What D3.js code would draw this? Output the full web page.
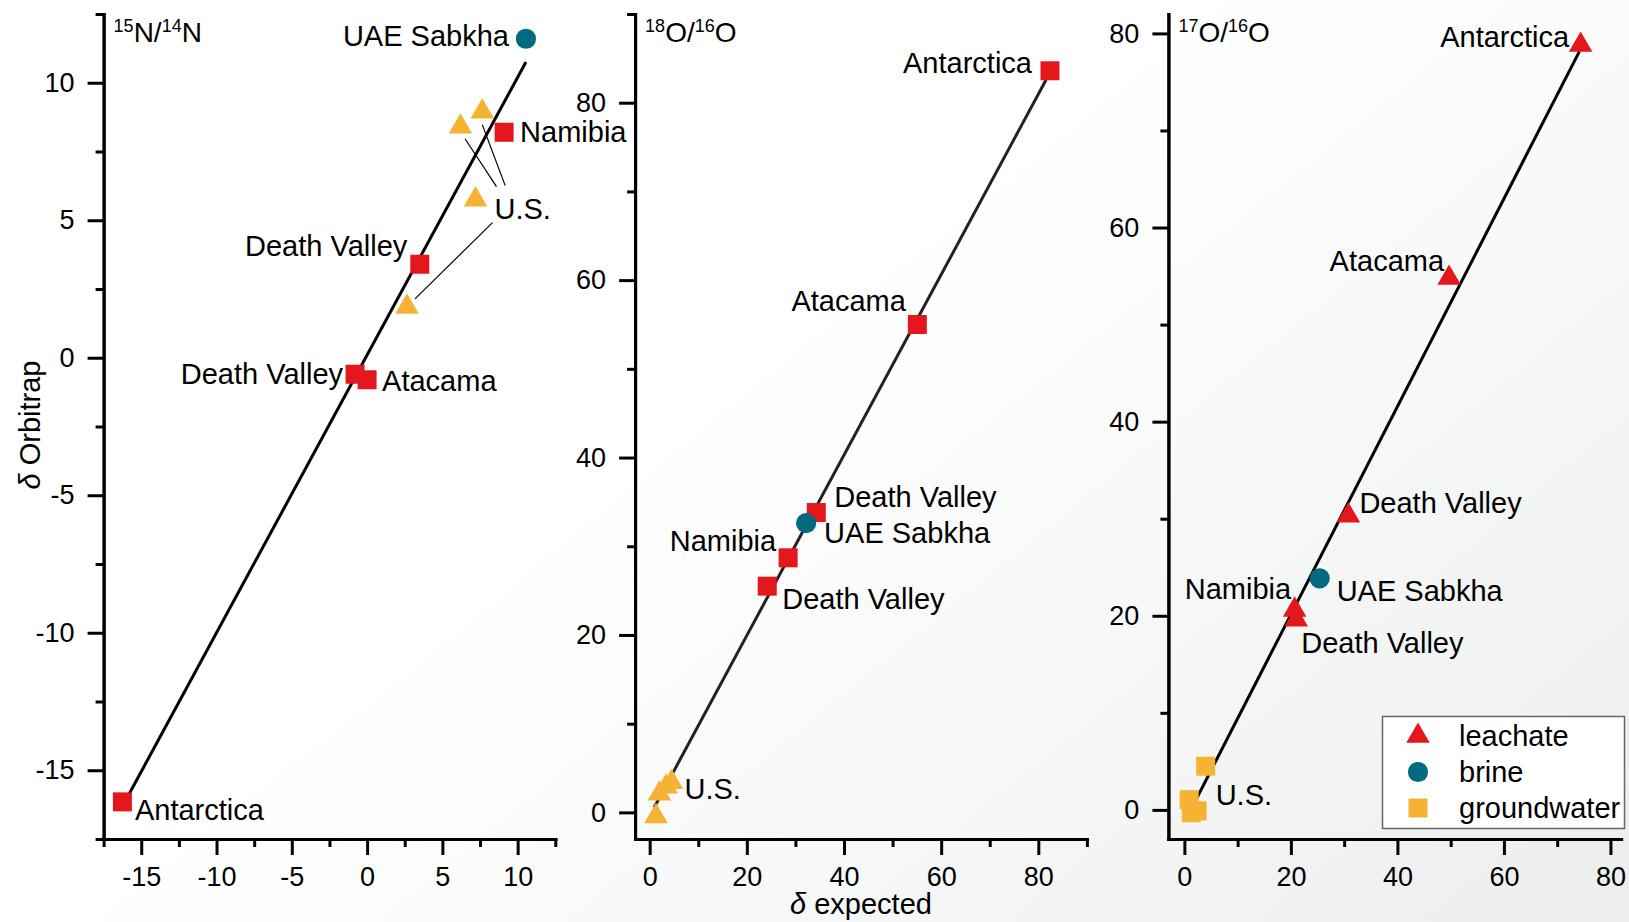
<!DOCTYPE html>
<html>
<head>
<meta charset="utf-8">
<script src="https://cdn.jsdelivr.net/npm/d3@7"></script>
<style>
  body { margin: 0; background: #fff; }
  svg text { font-family: Arial, "Liberation Sans", sans-serif; fill: #000; }
</style>
</head>
<body>
<svg id="chart" width="1629" height="922"></svg>
<script>
// ---- data (delta expected vs delta Orbitrap) ----
var nSite     = ["UAE Sabkha", "Namibia", "Death Valley", "Death Valley", "Atacama", "Antarctica", "U.S.", "U.S.", "U.S.", "U.S."];
var nType     = ["brine", "leachate", "leachate", "leachate", "leachate", "leachate", "groundwater", "groundwater", "groundwater", "groundwater"];
var nExpected = [10.55, 9.1, 3.5, -0.8, 0.0, -16.25, 6.2, 7.65, 7.2, 2.65];
var nOrbitrap = [11.6, 8.2, 3.4, -0.6, -0.8, -16.15, 8.4, 8.95, 5.75, 1.85];

var o18Site     = ["Antarctica", "Atacama", "Death Valley", "UAE Sabkha", "Namibia", "Death Valley", "U.S.", "U.S.", "U.S.", "U.S."];
var o18Type     = ["leachate", "leachate", "leachate", "brine", "leachate", "leachate", "groundwater", "groundwater", "groundwater", "groundwater"];
var o18Expected = [82.4, 55.1, 34.3, 32.2, 28.5, 24.2, 4.5, 3.4, 2.0, 1.3];
var o18Orbitrap = [83.6, 55.0, 33.8, 32.6, 28.7, 25.5, 3.4, 2.9, 2.1, -0.45];

var o17Site     = ["Antarctica", "Atacama", "Death Valley", "UAE Sabkha", "Namibia", "Death Valley", "U.S.", "U.S.", "U.S.", "U.S."];
var o17Type     = ["leachate", "leachate", "leachate", "brine", "leachate", "leachate", "groundwater", "groundwater", "groundwater", "groundwater"];
var o17Expected = [74.4, 49.7, 30.8, 25.4, 20.7, 21.0, 4.0, 0.9, 1.3, 2.4];
var o17Orbitrap = [78.8, 54.8, 30.3, 23.85, 20.6, 19.6, 4.5, 1.05, -0.3, -0.1];

// fitted lines: [slope, intercept], drawn over [xStart, xEnd]
var nFit = [1.01, 0.1],    nFitRange = [-16.3, 10.55];
var o18Fit = [1.017, -0.4], o18FitRange = [0.9, 81.6];
var o17Fit = [1.071, -1.29], o17FitRange = [2.0, 74.2];

// axes
var nDomain = [-17.5, 12.5], nTicks = [-15, -10, -5, 0, 5, 10], nMinor = [-17.5, -12.5, -7.5, -2.5, 2.5, 7.5, 12.5];
var o18Domain = [-3, 90], o18Ticks = [0, 20, 40, 60, 80], o18Minor = [10, 30, 50, 70, 90];
var o17Domain = [-3, 82], o17Ticks = [0, 20, 40, 60, 80], o17Minor = [10, 30, 50, 70];

var legendNames = ["leachate", "brine", "groundwater"];

// ---- styling / layout ----
var colors = { leachate: "#e3171c", brine: "#006a80", groundwater: "#f6b333" };
var tickFont = 27, labelFont = 29;
var plotTop = 14, plotBottom = 839;

var svg = d3.select("#chart");

var defs = svg.append("defs");
var grad = defs.append("linearGradient").attr("id", "bg")
  .attr("gradientUnits", "userSpaceOnUse")
  .attr("x1", 1000).attr("y1", 150).attr("x2", 1629).attr("y2", 922);
grad.append("stop").attr("offset", 0).attr("stop-color", "#ffffff");
grad.append("stop").attr("offset", 1).attr("stop-color", "#eceeee");
svg.append("rect").attr("width", 1629).attr("height", 922).attr("fill", "url(#bg)");

var shapeOf = {
  square: d3.symbol().type(d3.symbolSquare).size(361),
  triangle: d3.symbol().type(d3.symbolTriangle).size(240),
  circle: d3.symbol().type(d3.symbolCircle).size(320)
};

function styleAxis(g) {
  g.attr("font-size", tickFont).attr("font-family", null);
  g.selectAll("path.domain").attr("stroke", "#000").attr("stroke-width", 3).attr("stroke-linecap", "square");
  g.selectAll("line").attr("stroke", "#000").attr("stroke-width", 3);
}

function drawPanel(p) {
  var x = d3.scaleLinear().domain(p.domain).range([p.left, p.right]);
  var y = d3.scaleLinear().domain(p.domain).range([plotBottom, plotTop]);
  var g = svg.append("g");

  // minor ticks first, then major with labels
  g.append("g").attr("transform", "translate(0," + plotBottom + ")")
    .call(d3.axisBottom(x).tickValues(p.minor).tickSize(8).tickSizeOuter(0).tickFormat(""))
    .call(styleAxis);
  g.append("g").attr("transform", "translate(0," + plotBottom + ")")
    .call(d3.axisBottom(x).tickValues(p.ticks).tickSize(16).tickPadding(12).tickSizeOuter(0).tickFormat(function(d) { return String(d); }))
    .call(styleAxis);
  g.append("g").attr("transform", "translate(" + p.left + ",0)")
    .call(d3.axisLeft(y).tickValues(p.minor).tickSize(8).tickSizeOuter(0).tickFormat(""))
    .call(styleAxis);
  g.append("g").attr("transform", "translate(" + p.left + ",0)")
    .call(d3.axisLeft(y).tickValues(p.ticks).tickSize(16).tickPadding(13).tickSizeOuter(0).tickFormat(function(d) { return String(d); }))
    .call(styleAxis);

  // title with superscripts
  var t = g.append("text").attr("x", p.left + 10).attr("y", 42).attr("font-size", 28);
  t.append("tspan").attr("font-size", 18).attr("dy", -10).text(p.title[0]);
  t.append("tspan").attr("dy", 10).text(p.title[1] + "/");
  t.append("tspan").attr("font-size", 18).attr("dy", -10).text(p.title[2]);
  t.append("tspan").attr("dy", 10).text(p.title[3]);

  // fit line
  g.append("line")
    .attr("x1", x(p.fitRange[0])).attr("y1", y(p.fit[1] + p.fit[0] * p.fitRange[0]))
    .attr("x2", x(p.fitRange[1])).attr("y2", y(p.fit[1] + p.fit[0] * p.fitRange[1]))
    .attr("stroke", p.lineColor).attr("stroke-width", 3);

  var pts = p.expected.map(function(v, i) {
    return { site: p.site[i], type: p.type[i], px: x(v), py: y(p.orbitrap[i]), i: i };
  });

  // leader lines
  (p.leaders || []).forEach(function(l) {
    var a = pts[l.from], lab = pts[p.leaderLabel];
    var lx = lab.px + p.labelPos[p.leaderLabel][0], ly = lab.py + p.labelPos[p.leaderLabel][1];
    g.append("line")
      .attr("x1", a.px + l.s[0]).attr("y1", a.py + l.s[1])
      .attr("x2", lx + l.e[0]).attr("y2", ly + l.e[1])
      .attr("stroke", "#000").attr("stroke-width", 1.2);
  });

  g.selectAll("path.mark").data(pts).enter().append("path")
    .attr("class", "mark")
    .attr("transform", function(d) { return "translate(" + d.px + "," + d.py + ")"; })
    .attr("d", function(d) { return shapeOf[p.shapes[d.type]](); })
    .attr("fill", function(d) { return colors[d.type]; });

  g.selectAll("text.lab").data(pts.filter(function(d) { return p.labelPos[d.i]; })).enter().append("text")
    .attr("class", "lab")
    .attr("font-size", labelFont)
    .attr("x", function(d) { return d.px + p.labelPos[d.i][0]; })
    .attr("y", function(d) { return d.py + p.labelPos[d.i][1]; })
    .attr("text-anchor", function(d) { return p.labelPos[d.i][2] || "start"; })
    .text(function(d) { return d.site; });

  return { x: x, y: y };
}

drawPanel({
  title: ["15", "N", "14", "N"], domain: nDomain, ticks: nTicks, minor: nMinor,
  left: 103.6, right: 555.3,
  site: nSite, type: nType, expected: nExpected, orbitrap: nOrbitrap,
  fit: nFit, fitRange: nFitRange, lineColor: "#000",
  shapes: { leachate: "square", groundwater: "triangle", brine: "circle" },
  labelPos: [[-17, 7, "end"], [16, 10], [-12.5, -8, "end"], [-12, 10, "end"], [15, 11], [12.5, 18], null, null, [19, 19], null],
  leaderLabel: 8,
  leaders: [{ from: 6, s: [4.6, 12], e: [2, -32] }, { from: 7, s: [0, 13], e: [10.7, -33] }, { from: 9, s: [8, -8], e: [-2, 4] }]
});

drawPanel({
  title: ["18", "O", "16", "O"], domain: o18Domain, ticks: o18Ticks, minor: o18Minor,
  left: 635.1, right: 1086.9,
  site: o18Site, type: o18Type, expected: o18Expected, orbitrap: o18Orbitrap,
  fit: o18Fit, fitRange: o18FitRange, lineColor: "#222",
  shapes: { leachate: "square", groundwater: "triangle", brine: "circle" },
  labelPos: [[-18, 2, "end"], [-11.5, -13, "end"], [18, -6], [18, 20], [-12, -7, "end"], [15, 23], [13, 17], null, null, null]
});

drawPanel({
  title: ["17", "O", "16", "O"], domain: o17Domain, ticks: o17Ticks, minor: o17Minor,
  left: 1168.4, right: 1621.1,
  site: o17Site, type: o17Type, expected: o17Expected, orbitrap: o17Orbitrap,
  fit: o17Fit, fitRange: o17FitRange, lineColor: "#000",
  shapes: { leachate: "triangle", groundwater: "square", brine: "circle" },
  labelPos: [[-11.5, 2, "end"], [-5, -7, "end"], [11, -3], [17, 23], [-3.5, -11, "end"], [5, 33], [10, 39], null, null, null]
});

// axis titles
svg.append("text").attr("transform", "translate(40,425) rotate(-90)")
  .attr("text-anchor", "middle").attr("font-size", labelFont)
  .html('<tspan font-style="italic">δ</tspan> Orbitrap');
svg.append("text").attr("x", 861).attr("y", 914)
  .attr("text-anchor", "middle").attr("font-size", labelFont)
  .html('<tspan font-style="italic">δ</tspan> expected');

// legend
var legendShapes = ["triangle", "circle", "square"];
var lg = svg.append("g");
lg.append("rect").attr("x", 1382.5).attr("y", 716.5).attr("width", 242).attr("height", 112)
  .attr("fill", "#fff").attr("stroke", "#666").attr("stroke-width", 1.5);
var ly = d3.scalePoint().domain(legendNames).range([736, 808]);
legendNames.forEach(function(n, i) {
  lg.append("path").attr("transform", "translate(1418," + ly(n) + ")")
    .attr("d", shapeOf[legendShapes[i]]()).attr("fill", colors[n]);
  lg.append("text").attr("x", 1459).attr("y", ly(n) + 10).attr("font-size", labelFont).text(n);
});
</script>
</body>
</html>
